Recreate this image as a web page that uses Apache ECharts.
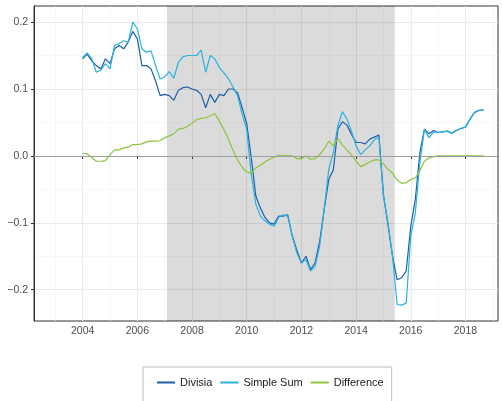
<!DOCTYPE html>
<html>
<head>
<meta charset="utf-8">
<script src="https://cdn.jsdelivr.net/npm/echarts@6/dist/echarts.min.js"></script>
<style>
  html, body { margin: 0; padding: 0; background: #fff; }
  #myChart { width: 502px; height: 401px; }
</style>
</head>
<body>
<div id="myChart"></div>
<script>
// two-monthly observations, Jan 2004 .. Sep 2018
const dates = [
  '2004-01','2004-03','2004-05','2004-07','2004-09','2004-11',
  '2005-01','2005-03','2005-05','2005-07','2005-09','2005-11',
  '2006-01','2006-03','2006-05','2006-07','2006-09','2006-11',
  '2007-01','2007-03','2007-05','2007-07','2007-09','2007-11',
  '2008-01','2008-03','2008-05','2008-07','2008-09','2008-11',
  '2009-01','2009-03','2009-05','2009-07','2009-09','2009-11',
  '2010-01','2010-03','2010-05','2010-07','2010-09','2010-11',
  '2011-01','2011-03','2011-05','2011-07','2011-09','2011-11',
  '2012-01','2012-03','2012-05','2012-07','2012-09','2012-11',
  '2013-01','2013-03','2013-05','2013-07','2013-09','2013-11',
  '2014-01','2014-03','2014-05','2014-07','2014-09','2014-11',
  '2015-01','2015-03','2015-05','2015-07','2015-09','2015-11',
  '2016-01','2016-03','2016-05','2016-07','2016-09','2016-11',
  '2017-01','2017-03','2017-05','2017-07','2017-09','2017-11',
  '2018-01','2018-03','2018-05','2018-07','2018-09'
]

const divisia = [
  0.145, 0.152, 0.142, 0.135, 0.130, 0.145,
  0.138, 0.160, 0.165, 0.160, 0.170, 0.186,
  0.175, 0.135, 0.135, 0.130, 0.112, 0.090,
  0.092, 0.090, 0.083, 0.098, 0.102, 0.103,
  0.100, 0.098, 0.092, 0.072, 0.092, 0.080,
  0.092, 0.090, 0.100, 0.100, 0.094, 0.072,
  0.048, -0.003, -0.060, -0.078, -0.092, -0.100,
  -0.102, -0.090, -0.090, -0.088, -0.120, -0.141,
  -0.160, -0.150, -0.170, -0.160, -0.128, -0.080,
  -0.035, -0.021, 0.040, 0.051, 0.046, 0.032,
  0.020, 0.020, 0.018, 0.025, 0.028, 0.031,
  -0.058, -0.103, -0.150, -0.185, -0.182, -0.172,
  -0.105, -0.065, 0.005, 0.040, 0.033, 0.038,
  0.035, 0.036, 0.037, 0.034, 0.038, 0.041,
  0.043, 0.055, 0.065, 0.068, 0.069
]

const simpleSum = [
  0.147, 0.154, 0.145, 0.125, 0.128, 0.138,
  0.130, 0.165, 0.168, 0.172, 0.170, 0.200,
  0.190, 0.160, 0.155, 0.157, 0.135, 0.115,
  0.118, 0.126, 0.116, 0.140, 0.148, 0.150,
  0.150, 0.150, 0.158, 0.125, 0.150, 0.145,
  0.132, 0.124, 0.115, 0.103, 0.090, 0.062,
  0.040, -0.028, -0.072, -0.090, -0.097, -0.102,
  -0.105, -0.092, -0.088, -0.090, -0.120, -0.145,
  -0.160, -0.155, -0.172, -0.165, -0.135, -0.080,
  -0.020, 0.005, 0.045, 0.066, 0.055, 0.037,
  0.015, 0.002, 0.009, 0.015, 0.024, 0.028,
  -0.060, -0.100, -0.150, -0.222, -0.223, -0.220,
  -0.120, -0.085, -0.010, 0.040, 0.027, 0.036,
  0.035, 0.036, 0.037, 0.034, 0.038, 0.041,
  0.043, 0.055, 0.065, 0.068, 0.069
]

const difference = [
  0.004, 0.003, -0.002, -0.008, -0.008, -0.007,
  0.002, 0.009, 0.009, 0.012, 0.013, 0.017,
  0.017, 0.018, 0.021, 0.022, 0.022, 0.023,
  0.027, 0.030, 0.033, 0.040, 0.041, 0.044,
  0.049, 0.054, 0.056, 0.057, 0.060, 0.063,
  0.052, 0.039, 0.025, 0.008, -0.006, -0.017,
  -0.024, -0.026, -0.018, -0.014, -0.009, -0.005,
  -0.002, 0.001, 0.001, 0.000, 0.000, -0.004,
  -0.004, 0.000, -0.005, -0.004, 0.002, 0.010,
  0.022, 0.015, 0.026, 0.016, 0.009, 0.001,
  -0.008, -0.016, -0.013, -0.009, -0.006, -0.006,
  -0.012, -0.020, -0.026, -0.036, -0.041, -0.040,
  -0.035, -0.033, -0.022, -0.008, -0.003, -0.001,
  0.000, 0.000, 0.000, 0.000, 0.000, 0.000,
  0.000, 0.000, 0.000, 0.000, 0.000
]

// shaded period
const shadeFrom = '2007-02'
const shadeTo = '2015-06'

const xTicks = [2004, 2006, 2008, 2010, 2012, 2014, 2016, 2018]
const xMinor = [2003, 2005, 2007, 2009, 2011, 2013, 2015, 2017, 2019]
const yTicks = [-0.2, -0.1, 0, 0.1, 0.2]
const yMinor = [-0.15, -0.05, 0.05, 0.15]

function toYear (s) {
  return +s.slice(0, 4) + (+s.slice(5, 7) - 1) / 12
}
function pairs (vals) {
  return dates.map((d, i) => [toYear(d), vals[i]])
}

const xMin = 2002.22, xMax = 2019.19
const yMin = -0.2467, yMax = 0.224
const font = 'Liberation Sans, Arial, sans-serif'

let myChart = echarts.init(document.getElementById('myChart'))
myChart.setOption({
  animation: false,
  backgroundColor: '#fff',
  textStyle: { fontFamily: font },
  grid: {
    left: 34, right: 4, top: 6, bottom: 80,
    show: true, borderColor: '#333', borderWidth: 1, backgroundColor: '#fff'
  },
  legend: {
    data: ['Divisia', 'Simple Sum', 'Difference'],
    left: 143,
    top: 367,
    padding: [10, 8, 14, 14],
    borderColor: '#bebebe',
    borderWidth: 1,
    itemWidth: 18,
    itemHeight: 2,
    itemGap: 8,
    icon: 'rect',
    textStyle: { fontSize: 11, color: '#1a1a1a', fontFamily: font }
  },
  xAxis: [
    {
      type: 'value', min: xMin, max: xMax,
      axisLine: { show: true, lineStyle: { color: '#333' } },
      axisTick: { show: true, length: 3, customValues: xTicks, lineStyle: { color: '#333' } },
      axisLabel: {
        customValues: xTicks, margin: 5, color: '#4d4d4d', fontSize: 10.5, fontFamily: font,
        formatter: v => String(Math.round(v))
      },
      splitLine: { show: true, lineStyle: { color: '#ebebeb', width: 1 } }
    },
    {
      type: 'value', min: xMin, max: xMax,
      axisLine: { show: false },
      axisTick: { show: false, customValues: xMinor },
      axisLabel: { show: false },
      splitLine: { show: true, lineStyle: { color: '#f2f2f2', width: 0.6 } }
    }
  ],
  yAxis: [
    {
      type: 'value', min: yMin, max: yMax,
      axisLine: { show: true, lineStyle: { color: '#333' } },
      axisTick: { show: true, length: 3, customValues: yTicks, lineStyle: { color: '#333' } },
      axisLabel: {
        customValues: yTicks, margin: 6, color: '#4d4d4d', fontSize: 10.5, fontFamily: font,
        formatter: v => (v < -1e-9 ? '\u2212' : '') + Math.abs(v).toFixed(1)
      },
      splitLine: { show: true, lineStyle: { color: '#ebebeb', width: 1 } }
    },
    {
      type: 'value', min: yMin, max: yMax,
      axisLine: { show: false },
      axisTick: { show: false, customValues: yMinor },
      axisLabel: { show: false },
      splitLine: { show: true, lineStyle: { color: '#f2f2f2', width: 0.6 } }
    }
  ],
  series: [
    {
      // recession band + zero reference line
      name: 'shade',
      type: 'line',
      data: [],
      z: 1,
      silent: true,
      markArea: {
        silent: true,
        itemStyle: { color: 'rgba(0,0,0,0.14)' },
        data: [[{ xAxis: toYear(shadeFrom) }, { xAxis: toYear(shadeTo) }]]
      },
      markLine: {
        silent: true,
        symbol: 'none',
        label: { show: false },
        lineStyle: { color: '#9e9e9e', type: 'solid', width: 1 },
        data: [{ yAxis: 0 }]
      }
    },
    {
      name: 'Divisia',
      type: 'line',
      z: 3,
      showSymbol: false,
      itemStyle: { color: '#1c5ea8' },
      lineStyle: { width: 1.2, color: '#1c5ea8' },
      data: pairs(divisia)
    },
    {
      name: 'Simple Sum',
      type: 'line',
      z: 3,
      showSymbol: false,
      itemStyle: { color: '#27b3e0' },
      lineStyle: { width: 1.2, color: '#27b3e0' },
      data: pairs(simpleSum)
    },
    {
      name: 'Difference',
      type: 'line',
      z: 3,
      showSymbol: false,
      itemStyle: { color: '#8cc43c' },
      lineStyle: { width: 1.2, color: '#8cc43c' },
      data: pairs(difference)
    }
  ]
})
</script>
</body>
</html>
